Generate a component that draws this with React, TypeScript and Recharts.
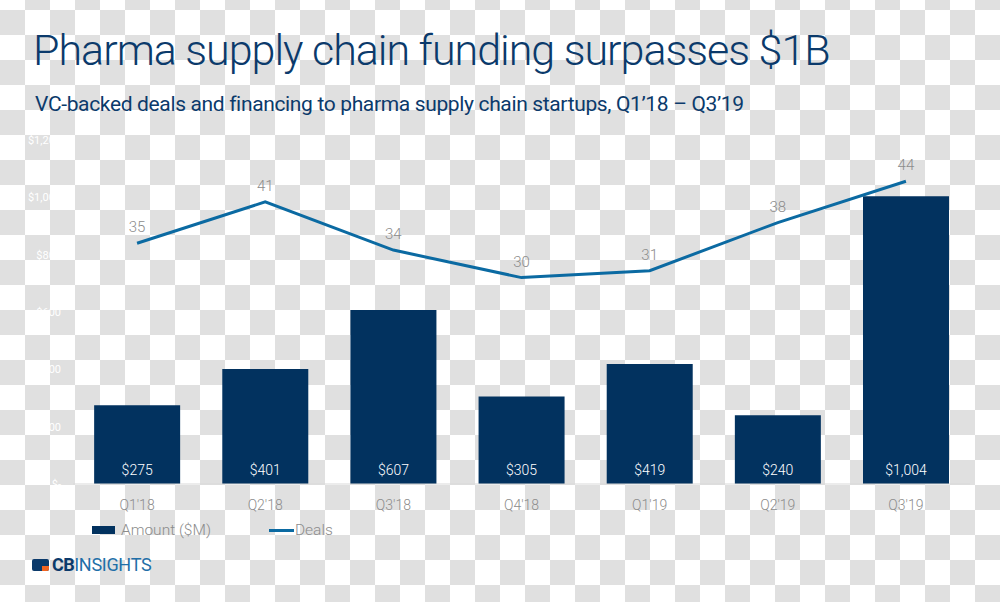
import React from "react";
import {
  ComposedChart,
  Bar,
  Line,
  XAxis,
  YAxis,
  LabelList,
} from "recharts";

const QUARTERS = ["Q1'18", "Q2'18", "Q3'18", "Q4'18", "Q1'19", "Q2'19", "Q3'19"];
const AMOUNTS = [275, 401, 607, 305, 419, 240, 1004];
const DEALS = [35, 41, 34, 30, 31, 38, 44];
const AMOUNT_TICKS = [0, 200, 400, 600, 800, 1000, 1200];

const BAR_COLOR = "#02325f";
const LINE_COLOR = "#0b6aa2";
const TEXT_GRAY = "#8c8c8c";
const FONT = "Roboto, 'Noto Sans', sans-serif";

const data = QUARTERS.map((q, i) => ({
  quarter: q,
  amount: AMOUNTS[i],
  deals: DEALS[i],
}));

const fmtMoney = (v: number) => (v === 0 ? "$-" : `$${v.toLocaleString("en-US")}`);

function BarValue(props: any) {
  const { x, y, width, height, value } = props;
  return (
    <text
      x={x + width / 2}
      y={y + height - 9}
      textAnchor="middle"
      fill="#ffffff"
      fontSize={14}
      fontFamily={FONT}
      fontWeight={300}
    >
      {fmtMoney(value)}
    </text>
  );
}

function DealValue(props: any) {
  const { x, y, value } = props;
  return (
    <text
      x={x}
      y={y - 11}
      textAnchor="middle"
      fill={TEXT_GRAY}
      fontSize={15}
      fontFamily={FONT}
      fontWeight={300}
    >
      {value}
    </text>
  );
}

export default function App() {
  return (
    <div
      style={{
        position: "absolute",
        left: 0,
        top: 0,
        width: 1000,
        height: 602,
        overflow: "hidden",
        fontFamily: FONT,
        backgroundColor: "#fff",
        backgroundImage:
          "conic-gradient(#ffffff 0 25%, #e0e0e0 0 50%, #ffffff 0 75%, #e0e0e0 0)",
        backgroundSize: "50px 50px",
        backgroundPosition: "0 10px",
      }}
    >
      <div
        style={{
          position: "absolute",
          left: 33,
          top: 22,
          fontSize: 43,
          fontWeight: 300,
          letterSpacing: -1,
          color: "#0b3a6b",
          whiteSpace: "nowrap",
          lineHeight: "56px",
        }}
      >
        Pharma supply chain funding surpasses $1B
      </div>
      <div
        style={{
          position: "absolute",
          left: 35,
          top: 90,
          fontSize: 21,
          fontWeight: 400,
          letterSpacing: -0.35,
          color: "#0b3a6b",
          whiteSpace: "nowrap",
          lineHeight: "28px",
        }}
      >
        VC-backed deals and financing to pharma supply chain startups, Q1’18 – Q3’19
      </div>

      <div style={{ position: "absolute", left: 0, top: 0 }}>
        <ComposedChart
          width={1000}
          height={602}
          data={data}
          margin={{ top: 140, right: 30, bottom: 88, left: 0 }}
          barCategoryGap="16.5%"
        >
          <XAxis
            dataKey="quarter"
            height={30}
            axisLine={{ stroke: "#d9d9d9" }}
            tickLine={false}
            tick={{ fill: TEXT_GRAY, fontSize: 14, fontFamily: FONT, fontWeight: 300 }}
            tickMargin={10}
          />
          <YAxis
            yAxisId="amt"
            width={73}
            domain={[0, 1200]}
            ticks={AMOUNT_TICKS}
            axisLine={false}
            tickLine={false}
            tickMargin={6}
            tickFormatter={fmtMoney}
            tick={{ fill: "#ffffff", fontSize: 11, fontFamily: FONT }}
          />
          <YAxis yAxisId="deals" orientation="right" domain={[0, 50]} hide />
          <Bar
            yAxisId="amt"
            dataKey="amount"
            fill={BAR_COLOR}
            isAnimationActive={false}
          >
            <LabelList dataKey="amount" content={BarValue} />
          </Bar>
          <Line
            yAxisId="deals"
            dataKey="deals"
            stroke={LINE_COLOR}
            strokeWidth={3}
            dot={false}
            isAnimationActive={false}
          >
            <LabelList dataKey="deals" content={DealValue} />
          </Line>
        </ComposedChart>
      </div>

      {/* legend */}
      <div
        style={{
          position: "absolute",
          left: 92,
          top: 520,
          display: "flex",
          alignItems: "center",
          fontSize: 15.5,
          fontWeight: 300,
          color: TEXT_GRAY,
          height: 20,
        }}
      >
        <span style={{ width: 23, height: 8, background: BAR_COLOR, marginRight: 6 }} />
        <span>Amount ($M)</span>
        <span
          style={{ width: 25, height: 3, background: LINE_COLOR, marginLeft: 58, marginRight: 1 }}
        />
        <span>Deals</span>
      </div>

      {/* brand */}
      <div
        style={{
          position: "absolute",
          left: 32,
          top: 556,
          display: "flex",
          alignItems: "center",
          height: 18,
        }}
      >
        <div
          style={{
            position: "relative",
            width: 17,
            height: 12,
            background: "#0b3a6b",
            borderRadius: 2,
            marginRight: 3,
          }}
        >
          <div
            style={{
              position: "absolute",
              right: 0,
              bottom: 0,
              width: 7,
              height: 5,
              background: "#f26522",
              borderBottomRightRadius: 2,
            }}
          />
        </div>
        <span
          style={{
            fontSize: 18,
            fontWeight: 700,
            color: "#0b3a6b",
            letterSpacing: -0.5,
            lineHeight: "18px",
          }}
        >
          CB
        </span>
        <span
          style={{
            fontSize: 18,
            fontWeight: 400,
            color: "#1f6fa8",
            letterSpacing: -0.3,
            lineHeight: "18px",
          }}
        >
          INSIGHTS
        </span>
      </div>
    </div>
  );
}
